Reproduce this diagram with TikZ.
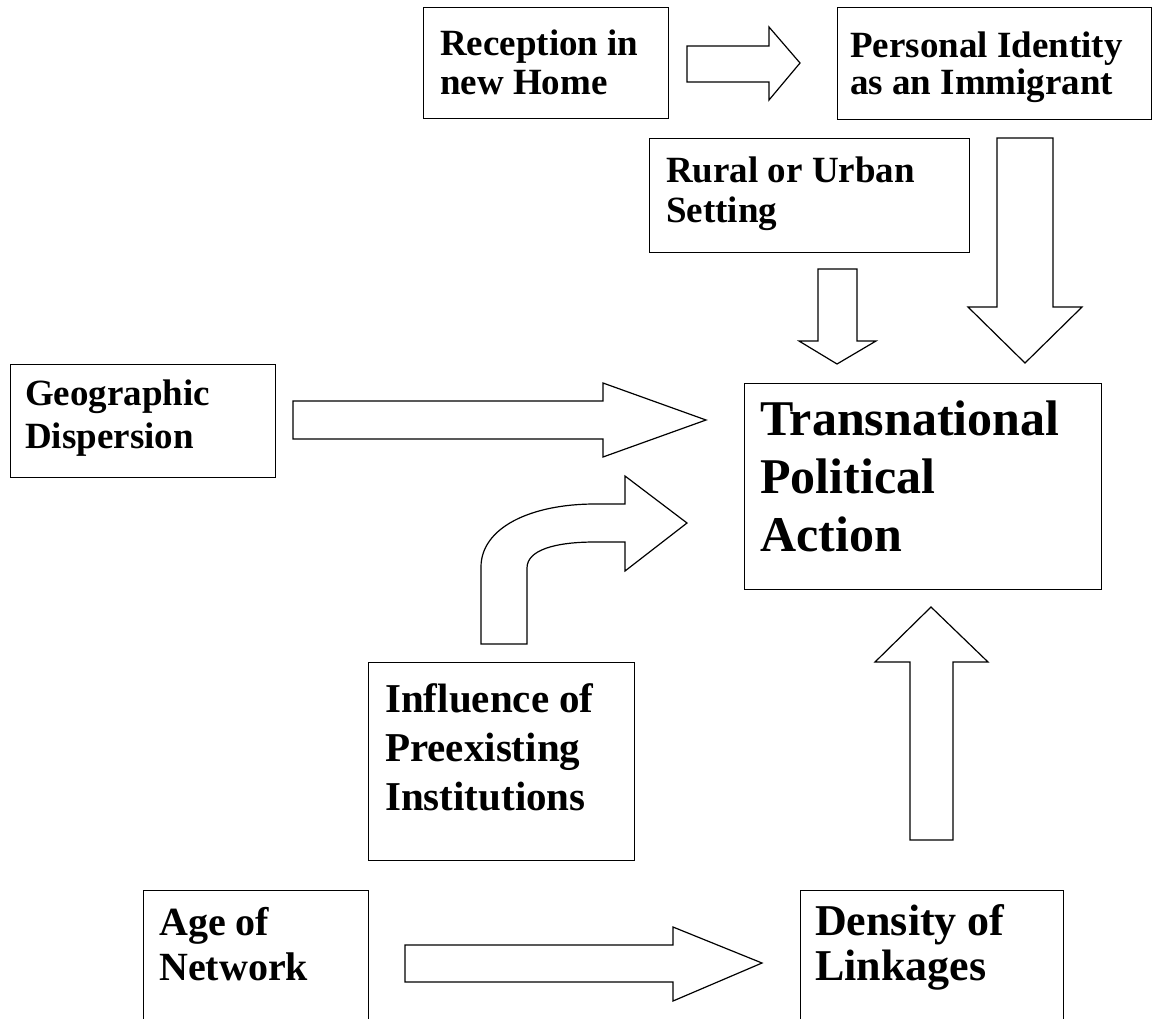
\documentclass[tikz,border=0pt]{standalone}
\usepackage{fontspec}
\setmainfont{Liberation Serif}
\begin{document}
\begin{tikzpicture}[x=1pt,y=-1pt,
  box/.style={draw=black, line width=1.2pt, inner sep=0pt, anchor=north west},
  blk/.style={draw=black, line width=1.2pt, fill=white, line join=miter},
  lbl/.style={anchor=base west, inner sep=0pt, font=\bfseries\fontsize{37}{40}\selectfont},
  lblA/.style={lbl, font=\bfseries\fontsize{40}{44}\selectfont},
  lblI/.style={lbl, font=\bfseries\fontsize{41}{46}\selectfont},
  lblD/.style={lbl, font=\bfseries\fontsize{44}{48}\selectfont},
  lblT/.style={lbl, font=\bfseries\fontsize{50}{56}\selectfont}]
\clip (0,0) rectangle (1153,1018);
\fill[white] (0,0) rectangle (1153,1018);
% boxes
\node[box, minimum width=245pt, minimum height=111pt] (rec) at (423,7) {};
\node[box, minimum width=314pt, minimum height=112pt] (pers) at (837,7) {};
\node[box, minimum width=320pt, minimum height=114pt] (rur) at (649,138) {};
\node[box, minimum width=265pt, minimum height=113pt] (geo) at (10,364) {};
\node[box, minimum width=357pt, minimum height=206pt] (tpa) at (744,383) {};
\node[box, minimum width=266pt, minimum height=198pt] (inf) at (368,662) {};
\node[box, minimum width=225pt, minimum height=200pt] (age) at (143,890) {};
\node[box, minimum width=263pt, minimum height=200pt] (den) at (800,890) {};
% texts
\node[lbl] (rec1) at (440,55) {Reception in};
\node[lbl] (rec2) at (440,94) {new Home};
\node[lbl] (pers1) at (850,57) {Personal Identity};
\node[lbl] (pers2) at (850,94) {as an Immigrant};
\node[lbl] (rur1) at (666,182) {Rural or Urban};
\node[lbl] (rur2) at (666,222) {Setting};
\node[lbl] (geo1) at (25,405) {Geographic};
\node[lbl] (geo2) at (25,448) {Dispersion};
\node[lblT] (tpa1) at (760,435) {Transnational};
\node[lblT] (tpa2) at (760,493) {Political};
\node[lblT] (tpa3) at (760,551) {Action};
\node[lblI] (inf1) at (385,712) {Influence of};
\node[lblI] (inf2) at (385,761) {Preexisting};
\node[lblI] (inf3) at (385,810) {Institutions};
\node[lblA] (age1) at (159,935) {Age of};
\node[lblA] (age2) at (159,980) {Network};
\node[lblD] (den1) at (815,935) {Density of};
\node[lblD] (den2) at (815,980) {Linkages};
% block arrows
\draw[blk] (687,46) -- (769,46) -- (769,27) -- (800,63) -- (769,100) -- (769,82) -- (687,82) -- cycle;
\draw[blk] (818,269) -- (857,269) -- (857,341) -- (876,341) -- (837,364) -- (799,341) -- (818,341) -- cycle;
\draw[blk] (997,138) -- (1053,138) -- (1053,307) -- (1082,307) -- (1025,363) -- (968,307) -- (997,307) -- cycle;
\draw[blk] (293,401) -- (603,401) -- (603,383) -- (706,420) -- (603,457) -- (603,439) -- (293,439) -- cycle;
\draw[blk] (481,644) -- (481,567) .. controls (481,528) and (530,504) .. (595,504) -- (625,504) -- (625,476) -- (687,523) -- (625,571) -- (625,542) -- (595,542) .. controls (555,542) and (527,550) .. (527,568) -- (527,644) -- cycle;
\draw[blk] (910,840) -- (910,662) -- (875,662) -- (931,607) -- (988,662) -- (953,662) -- (953,840) -- cycle;
\draw[blk] (405,945) -- (673,945) -- (673,927) -- (762,963) -- (673,1001) -- (673,982) -- (405,982) -- cycle;
\end{tikzpicture}
\end{document}
